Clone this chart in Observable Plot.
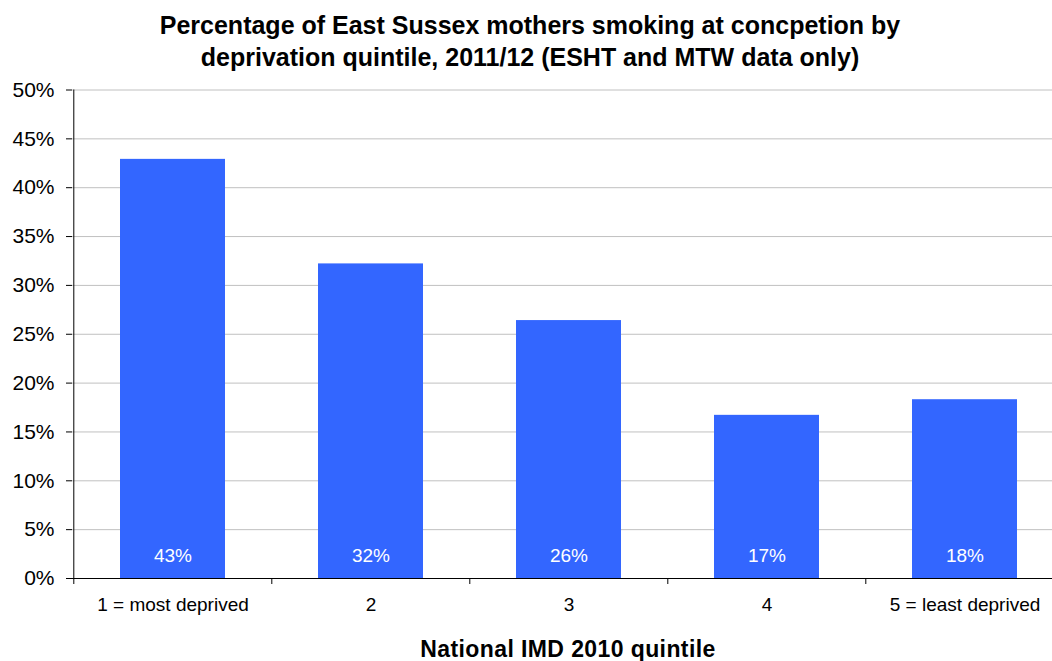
<!DOCTYPE html>
<html>
<head>
<meta charset="utf-8">
<script src="https://cdn.jsdelivr.net/npm/d3@7"></script>
<script src="https://cdn.jsdelivr.net/npm/@observablehq/plot@0.6"></script>
<style>
  html, body { margin: 0; padding: 0; background: #fff; }
  body { width: 1052px; height: 661px; overflow: hidden; font-family: "Liberation Sans", Arial, sans-serif; }
  #title { box-sizing: border-box; width: 1052px; height: 78px; padding-top: 9px; padding-left: 8px; text-align: center;
           font-weight: bold; font-size: 25px; line-height: 32px; color: #000; }
  #chart svg { max-width: none !important; display: block; }
  #xtitle { box-sizing: border-box; width: 1052px; padding-left: 84px; padding-top: 14px; text-align: center;
            font-weight: bold; font-size: 23px; line-height: 24px; letter-spacing: 0.4px; color: #000; }
</style>
</head>
<body>
<div id="title">Percentage of East Sussex mothers smoking at concpetion by<br>deprivation quintile, 2011/12 (ESHT and MTW data only)</div>
<div id="chart"></div>
<div id="xtitle">National IMD 2010 quintile</div>
<script>
const categories = ["1 = most deprived", "2", "3", "4", "5 = least deprived"];
const values = [0.429, 0.322, 0.264, 0.167, 0.183];
const yTicks = [0, 0.05, 0.10, 0.15, 0.20, 0.25, 0.30, 0.35, 0.40, 0.45, 0.50];

const data = categories.map((c, i) => ({quintile: c, value: values[i]}));
const pct = d3.format(".0%");

const W = 1064, marginLeft = 72, marginRight = 0;
const step = (W - marginLeft - marginRight) / categories.length;

const chart = Plot.plot({
  width: W,
  height: 545,
  marginTop: 11.5,
  marginBottom: 45,
  marginLeft,
  marginRight,
  style: {fontFamily: "Liberation Sans, Arial, sans-serif", color: "#000", background: "#fff", overflow: "visible"},
  x: {domain: categories, paddingInner: 0.47, paddingOuter: 0.235, label: null},
  y: {domain: [0, 0.5], label: null},
  marks: [
    Plot.gridY(yTicks, {stroke: "#c0c0c0", strokeOpacity: 1, strokeWidth: 1}),
    Plot.barY(data, {x: "quintile", y: "value", fill: "#3366FF"}),
    Plot.text(data, {x: "quintile", y: 0, text: d => pct(d.value), fill: "#fff", fontSize: 19, dy: -23, lineAnchor: "middle"}),
    Plot.ruleY([0], {stroke: "#000", strokeWidth: 1}),
    Plot.ruleX([categories[0]], {dx: -step / 2, y1: 0, y2: 0.5, stroke: "#000", strokeWidth: 1}),
    Plot.axisY({ticks: yTicks, tickFormat: pct, tickSize: 6, tickPadding: 12, fontSize: 21, label: null, stroke: "#000"}),
    Plot.axisX({tickSize: 6, tickFormat: () => "", dx: -step / 2, label: null, stroke: "#000"}),
    Plot.axisX({tickSize: 0, tickPadding: 19, fontSize: 19, label: null})
  ]
});
document.getElementById("chart").appendChild(chart);
</script>
</body>
</html>
